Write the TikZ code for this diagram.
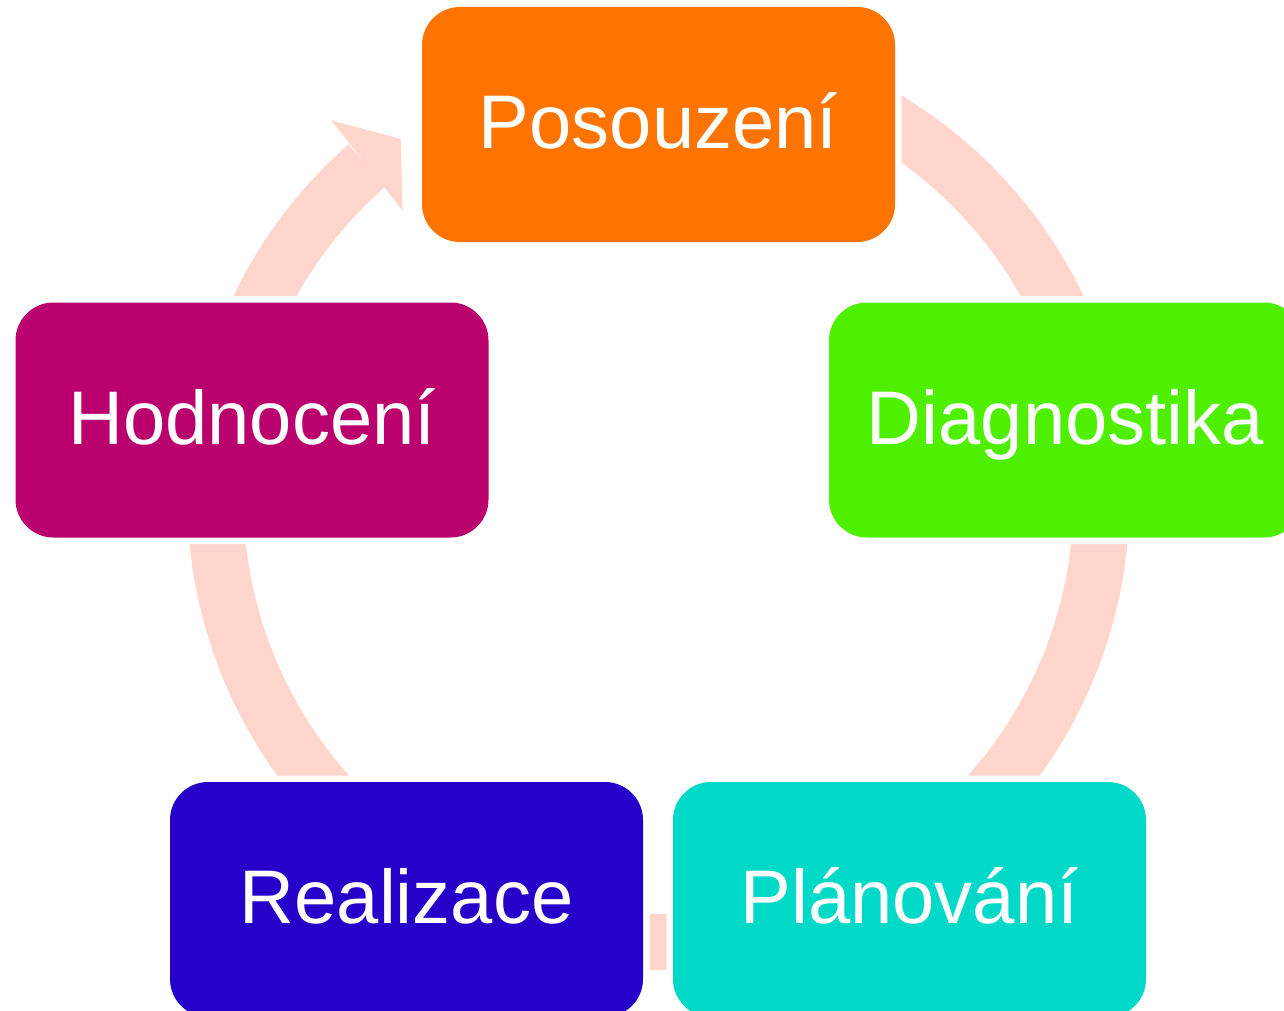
\documentclass[tikz,border=0pt]{standalone}
\usepackage{fontspec}
\setmainfont{Liberation Sans}
\usetikzlibrary{arrows.meta,bending}
\definecolor{posouzeni}{RGB}{255,115,0}
\definecolor{diagnostika}{RGB}{78,240,0}
\definecolor{planovani}{RGB}{0,217,200}
\definecolor{realizace}{RGB}{36,0,200}
\definecolor{hodnoceni}{RGB}{186,0,108}
\definecolor{band}{RGB}{255,213,204}
\tikzset{
  phase/.style={rounded corners=19pt, minimum width=236.5pt, minimum height=117.5pt,
    inner sep=0pt, text=white, font=\fontsize{38}{38}\selectfont,
    text height=27.4pt, text depth=3pt,
    preaction={draw=white, line width=6.5pt}},
  cyclearc/.style={draw=band, line width=28pt},
}
\begin{document}
\begin{tikzpicture}[x=0.5pt,y=0.5pt]
      \useasboundingbox (0,0) rectangle (1284,-1011);
      \clip (0,0) rectangle (1284,-1011);
      \coordinate (c) at (658.5,-499);
      \coordinate (pos-c) at ([shift={(90:443)}]c);
      \coordinate (dia-c) at ([shift={(15:443)}]c);
      \coordinate (pla-c) at ([shift={(-60:443)}]c);
      \coordinate (rea-c) at ([shift={(-120:443)}]c);
      \coordinate (hod-c) at ([shift={(165:443)}]c);
      \begin{scope}
        \draw[cyclearc] (pos-c) arc[start angle=90, end angle=15, radius=443];
        \draw[cyclearc] (dia-c) arc[start angle=15, end angle=-60, radius=443];
        \draw[cyclearc] (pla-c) arc[start angle=-60, end angle=-120, radius=443];
        \draw[cyclearc] (rea-c) arc[start angle=240, end angle=165, radius=443];
        \draw[cyclearc, -{Triangle[length=21.5pt, width=57.5pt, line width=0pt]}]
          (hod-c) arc[start angle=165, end angle=125.6, radius=443];
      \end{scope}
      \path
        (658.5,-124.5) node[phase, fill=posouzeni] (pos) {Posouzení}
        (1065.5,-420) node[phase, fill=diagnostika] (dia) {Diagnostika}
        (909.5,-899.5) node[phase, fill=planovani] (pla) {Plánování}
        (406.5,-899.5) node[phase, fill=realizace] (rea) {Realizace}
        (252,-420) node[phase, fill=hodnoceni] (hod) {Hodnocení};
    \end{tikzpicture}
\end{document}
